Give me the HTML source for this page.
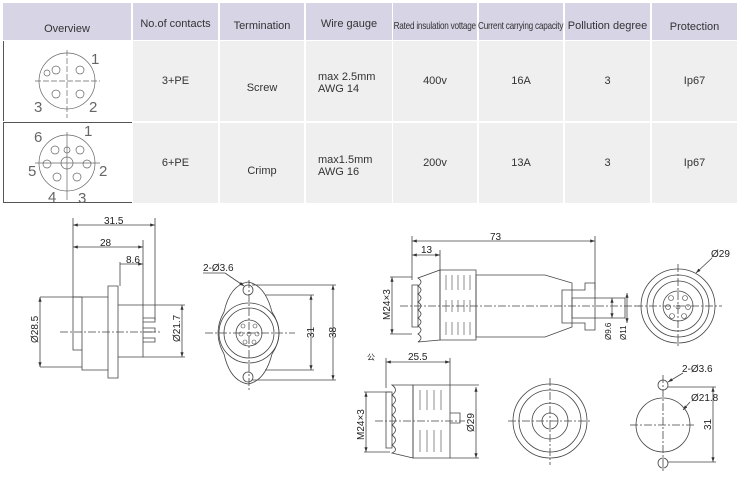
<!DOCTYPE html>
<html><head><meta charset="utf-8"><style>
body{margin:0;width:742px;height:498px;background:#fff;position:relative;overflow:hidden;font-family:"Liberation Sans",sans-serif;color:#333}
.c{position:absolute;box-sizing:border-box;display:flex;align-items:center;justify-content:center;text-align:center;font-size:11px}
.h{background:#d7d4e6;padding-top:14px}
.g{background:#efefef}
.n{white-space:nowrap;display:inline-block;font-size:10.5px;letter-spacing:-0.3px;transform:scaleX(0.78)}
svg{position:absolute;left:0;top:0}
</style></head><body>
<div class="c h" style="left:3px;top:3px;width:128px;height:37px">Overview</div>
<div class="c h" style="left:133px;top:3px;width:85px;height:37px;padding-top:4px">No.of contacts</div>
<div class="c h" style="left:220px;top:3px;width:84px;height:37px;padding-top:8px">Termination</div>
<div class="c h" style="left:306px;top:3px;width:86px;height:37px;padding-top:4px">Wire gauge</div>
<div class="c h" style="left:393px;top:3px;width:84px;height:37px;padding-top:8px"><span class="n">Rated insulation vottage</span></div>
<div class="c h" style="left:479px;top:3px;width:84px;height:37px;padding-top:8px"><span class="n">Current carrying capacity</span></div>
<div class="c h" style="left:565px;top:3px;width:85px;height:37px;padding-top:8px">Pollution degree</div>
<div class="c h" style="left:652px;top:3px;width:85px;height:37px;padding-top:10px">Protection</div>

<div class="c" style="left:3px;top:41px;width:128px;height:80px;border-left:1.5px solid #555"></div>
<div class="c g" style="left:133px;top:41px;width:85px;height:80px">3+PE</div>
<div class="c g" style="left:220px;top:41px;width:84px;height:80px;padding-top:14px">Screw</div>
<div class="c g" style="left:306px;top:41px;width:86px;height:80px;justify-content:flex-start;padding-left:12px;text-align:left;line-height:12px;padding-top:4px">max 2.5mm<br>AWG 14</div>
<div class="c g" style="left:393px;top:41px;width:84px;height:80px">400v</div>
<div class="c g" style="left:479px;top:41px;width:84px;height:80px">16A</div>
<div class="c g" style="left:565px;top:41px;width:85px;height:80px">3</div>
<div class="c g" style="left:652px;top:41px;width:85px;height:80px">Ip67</div>

<div class="c" style="left:3px;top:122px;width:129px;height:81px;border:1.5px solid #555;border-right:none"></div>
<div class="c g" style="left:133px;top:123px;width:85px;height:80px">6+PE</div>
<div class="c g" style="left:220px;top:123px;width:84px;height:80px;padding-top:16px">Crimp</div>
<div class="c g" style="left:306px;top:123px;width:86px;height:80px;justify-content:flex-start;padding-left:12px;text-align:left;line-height:12px;padding-top:6px">max1.5mm<br>AWG 16</div>
<div class="c g" style="left:393px;top:123px;width:84px;height:80px">200v</div>
<div class="c g" style="left:479px;top:123px;width:84px;height:80px">13A</div>
<div class="c g" style="left:565px;top:123px;width:85px;height:80px">3</div>
<div class="c g" style="left:652px;top:123px;width:85px;height:80px">Ip67</div>

<svg width="742" height="498" viewBox="0 0 742 498" fill="none" stroke="#444" stroke-width="0.8" font-family="Liberation Sans, sans-serif">
<defs><marker id="a" markerWidth="6" markerHeight="4" refX="6" refY="2" orient="auto-start-reverse"><path d="M0,0L6,2L0,4z" fill="#333" stroke="none"/></marker></defs>
<g stroke="#666" stroke-width="0.7">
<circle cx="67" cy="81" r="28"/>
<line x1="35" y1="81" x2="100" y2="81" stroke-dasharray="6 2"/><line x1="67" y1="50" x2="67" y2="118" stroke-dasharray="6 2"/>
<circle cx="56" cy="70" r="4"/><circle cx="80" cy="70" r="4"/><circle cx="56" cy="94" r="4"/><circle cx="80" cy="94" r="4"/><circle cx="47" cy="73" r="3"/>
<circle cx="67" cy="163" r="28"/>
<line x1="35" y1="163" x2="100" y2="163"/><line x1="67" y1="132" x2="67" y2="200"/>
<circle cx="67" cy="163" r="6"/><circle cx="67" cy="150" r="3"/>
<circle cx="55" cy="150" r="4"/><circle cx="80" cy="150" r="4"/><circle cx="47" cy="164" r="4"/><circle cx="87" cy="164" r="4"/><circle cx="57" cy="177" r="4"/><circle cx="77" cy="177" r="4"/>
</g>
<g fill="#666" stroke="none" font-size="15">
<text x="91" y="64">1</text><text x="34" y="112">3</text><text x="89" y="112">2</text>
<text x="34" y="142">6</text><text x="84" y="136">1</text><text x="28" y="176">5</text><text x="99" y="176">2</text><text x="48" y="202">4</text><text x="78" y="203">3</text>
</g>
<line x1="73" y1="225" x2="155" y2="225" marker-start="url(#a)" marker-end="url(#a)"/>
<line x1="73" y1="247" x2="143" y2="247" marker-start="url(#a)" marker-end="url(#a)"/>
<line x1="120" y1="264" x2="143" y2="264" marker-end="url(#a)"/>
<line x1="73" y1="218" x2="73" y2="297"/><line x1="155" y1="218" x2="155" y2="320"/><line x1="143" y1="240" x2="143" y2="305"/><line x1="120" y1="262" x2="120" y2="286"/>
<path d="M73 297H82V350H73Z M82 297H108V370H82Z M108 286H118V378H108Z M118 305H143V357H118Z"/>
<path d="M143 318H155V322H143 M143 328H155V332H143 M143 338H155V342H143"/>
<line x1="40" y1="297" x2="40" y2="367" marker-start="url(#a)" marker-end="url(#a)"/>
<line x1="40" y1="297" x2="82" y2="297"/><line x1="40" y1="367" x2="82" y2="367"/>
<line x1="182" y1="305" x2="182" y2="357" marker-start="url(#a)" marker-end="url(#a)"/>
<line x1="143" y1="305" x2="185" y2="305"/><line x1="143" y1="357" x2="185" y2="357"/>
<line x1="60" y1="332" x2="160" y2="332" stroke-dasharray="8 2 2 2"/>
<path d="M224 312 Q230 285 248 282 Q265 285 272 312 Q286 333 272 354 Q265 381 248 384 Q230 381 224 354 Q212 333 224 312Z"/>
<circle cx="249" cy="333" r="30"/><circle cx="249" cy="333" r="25"/><circle cx="249" cy="333" r="13"/>
<circle cx="248" cy="290" r="5"/><circle cx="248" cy="377" r="5"/>
<g stroke-width="0.6"><circle cx="243" cy="326" r="2"/><circle cx="255" cy="326" r="2"/><circle cx="241" cy="334" r="2"/><circle cx="249" cy="334" r="2"/><circle cx="257" cy="334" r="2"/><circle cx="245" cy="342" r="2"/><circle cx="254" cy="342" r="2"/></g>
<line x1="205" y1="333" x2="295" y2="333" stroke-dasharray="8 2 2 2"/><line x1="249" y1="280" x2="249" y2="390" stroke-dasharray="8 2 2 2"/>
<line x1="225" y1="273" x2="244" y2="286" marker-end="url(#a)"/><line x1="203" y1="273" x2="225" y2="273"/>
<line x1="311" y1="295" x2="311" y2="370" marker-start="url(#a)" marker-end="url(#a)"/>
<line x1="333" y1="285" x2="333" y2="380" marker-start="url(#a)" marker-end="url(#a)"/>
<line x1="252" y1="285" x2="336" y2="285"/><line x1="252" y1="380" x2="336" y2="380"/><line x1="265" y1="295" x2="314" y2="295"/><line x1="265" y1="370" x2="314" y2="370"/>
<line x1="412" y1="241" x2="595" y2="241" marker-start="url(#a)" marker-end="url(#a)"/>
<line x1="412" y1="255" x2="440" y2="255" marker-start="url(#a)" marker-end="url(#a)"/>
<line x1="412" y1="236" x2="412" y2="280"/><line x1="440" y1="250" x2="440" y2="270"/><line x1="595" y1="236" x2="595" y2="290"/>
<path d="M412 285H418V327H412Z"/>
<path d="M418 278 q6 4 0 8 q6 4 0 8 q6 4 0 8 q6 4 0 8 q6 4 0 8 q6 4 0 8 q6 4 0 8 q6 4 0 8 L440 340 V270Z"/>
<path d="M440 270H476V340H440Z"/>
<g stroke-width="0.6"><path d="M446 275V290 M452 275V290 M458 275V290 M464 275V290 M470 275V290 M446 300V312 M452 300V312 M458 300V312 M464 300V312 M470 300V312 M446 322V335 M452 322V335 M458 322V335 M464 322V335 M470 322V335"/></g>
<path d="M476 275H545L572 283V327L545 337H476Z"/>
<path d="M562 290H585V283H595V330H585V323H562Z"/>
<path d="M572 298H625V318H572Z"/>
<line x1="400" y1="306" x2="640" y2="306" stroke-dasharray="8 2 2 2"/>
<line x1="392" y1="277" x2="392" y2="334" marker-start="url(#a)" marker-end="url(#a)"/>
<line x1="390" y1="277" x2="412" y2="277"/><line x1="390" y1="334" x2="412" y2="334"/>
<line x1="612" y1="298" x2="612" y2="318" marker-start="url(#a)" marker-end="url(#a)"/>
<line x1="627" y1="293" x2="627" y2="323" marker-start="url(#a)" marker-end="url(#a)"/>
<circle cx="678" cy="306" r="37"/><circle cx="678" cy="306" r="31"/><circle cx="678" cy="306" r="25"/><circle cx="678" cy="306" r="15"/>
<line x1="635" y1="306" x2="722" y2="306" stroke-dasharray="8 2 2 2"/><line x1="678" y1="264" x2="678" y2="348" stroke-dasharray="8 2 2 2"/>
<g stroke-width="0.6"><circle cx="671" cy="298" r="2.5"/><circle cx="685" cy="298" r="2.5"/><circle cx="668" cy="307" r="2.5"/><circle cx="678" cy="307" r="2"/><circle cx="688" cy="307" r="2.5"/><circle cx="672" cy="316" r="2.5"/><circle cx="684" cy="316" r="2.5"/></g>
<line x1="712" y1="258" x2="696" y2="273" marker-end="url(#a)"/>
<line x1="386" y1="362" x2="450" y2="362" marker-start="url(#a)" marker-end="url(#a)"/>
<line x1="386" y1="358" x2="386" y2="388"/><line x1="450" y1="358" x2="450" y2="385"/>
<path d="M386 392H392V448H386Z"/>
<path d="M392 385 q7 5 0 10 q7 5 0 10 q7 5 0 10 q7 5 0 10 q7 5 0 10 q7 5 0 10 q7 5 0 8 L413 458V385Z"/>
<path d="M413 385H450V458H413Z"/>
<g stroke-width="0.6"><path d="M420 390V410 M427 390V410 M434 390V410 M441 390V410 M420 430V452 M427 430V452 M434 430V452 M441 430V452"/></g>
<path d="M450 413H460V423H450"/>
<line x1="375" y1="421" x2="465" y2="421" stroke-dasharray="8 2 2 2"/>
<line x1="366" y1="392" x2="366" y2="452" marker-start="url(#a)" marker-end="url(#a)"/>
<line x1="364" y1="392" x2="390" y2="392"/><line x1="364" y1="452" x2="390" y2="452"/>
<line x1="476" y1="387" x2="476" y2="458" marker-start="url(#a)" marker-end="url(#a)"/>
<line x1="450" y1="385" x2="479" y2="385"/><line x1="450" y1="458" x2="479" y2="458"/>
<circle cx="550" cy="421" r="37"/><circle cx="550" cy="421" r="31"/><circle cx="550" cy="421" r="18"/><circle cx="550" cy="421" r="8"/>
<line x1="508" y1="421" x2="592" y2="421" stroke-dasharray="8 2 2 2"/><line x1="550" y1="378" x2="550" y2="465" stroke-dasharray="8 2 2 2"/>
<circle cx="663" cy="425" r="27"/><circle cx="663" cy="385" r="5"/><circle cx="663" cy="463" r="5"/>
<line x1="630" y1="425" x2="696" y2="425" stroke-dasharray="8 2 2 2"/><line x1="663" y1="375" x2="663" y2="472" stroke-dasharray="8 2 2 2"/>
<line x1="713" y1="387" x2="713" y2="462" marker-start="url(#a)" marker-end="url(#a)"/>
<line x1="668" y1="387" x2="716" y2="387"/><line x1="668" y1="462" x2="716" y2="462"/>
<line x1="683" y1="373" x2="668" y2="382" marker-end="url(#a)"/>
<line x1="690" y1="402" x2="683" y2="410" marker-end="url(#a)"/>
<g fill="#222" stroke="none" font-size="10">
<text x="104" y="224">31.5</text><text x="100" y="246">28</text><text x="126" y="263">8.6</text>
<text x="203" y="271">2-Ø3.6</text>
<text transform="translate(38,343) rotate(-90)">Ø28.5</text>
<text transform="translate(180,342) rotate(-90)">Ø21.7</text>
<text transform="translate(314,338) rotate(-90)">31</text>
<text transform="translate(336,338) rotate(-90)">38</text>
<text x="490" y="240">73</text><text x="421" y="253">13</text>
<text transform="translate(390,320) rotate(-90)">M24×3</text>
<text transform="translate(611,340) rotate(-90)" font-size="8">Ø9.6</text>
<text transform="translate(626,340) rotate(-90)" font-size="8">Ø11</text>
<text x="711" y="257">Ø29</text>
<text x="367" y="360" font-size="8">公</text>
<text x="408" y="360">25.5</text>
<text transform="translate(364,440) rotate(-90)">M24×3</text>
<text transform="translate(474,432) rotate(-90)">Ø29</text>
<text x="682" y="372">2-Ø3.6</text><text x="691" y="401">Ø21.8</text>
<text transform="translate(711,430) rotate(-90)">31</text>
</g>
</svg>
</body></html>
